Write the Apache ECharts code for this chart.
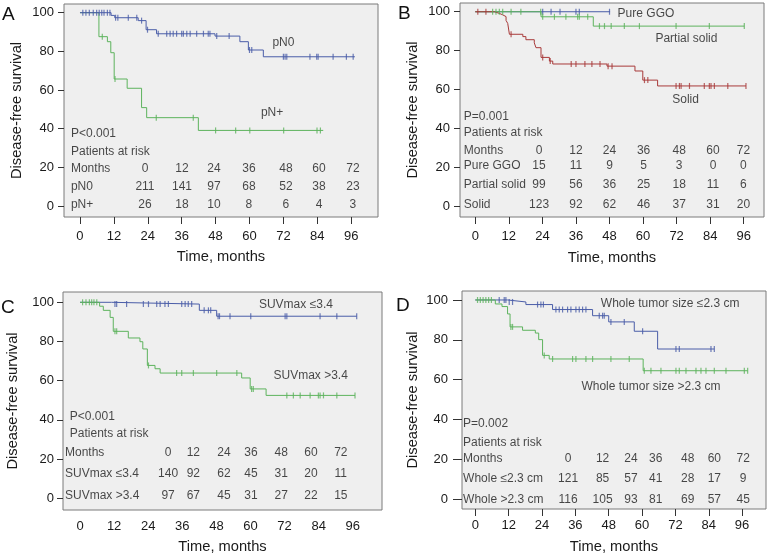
<!DOCTYPE html>
<html><head><meta charset="utf-8">
<script src="https://cdn.jsdelivr.net/npm/echarts@6/dist/echarts.min.js"></script>
<style>html,body{margin:0;padding:0;background:#fff}#c{width:772px;height:556px}</style>
</head><body><div id="c"></div>
<script>
// ================= DATA =================
const xTickValues = [0, 12, 24, 36, 48, 60, 72, 84, 96];
const yTickValues = [0, 20, 40, 60, 80, 100];
const riskMonths = [0, 12, 24, 36, 48, 60, 72];
const yAxisTitle = 'Disease-free survival';
const xAxisTitle = 'Time, months';

// Panel A — pN0 / pN+
const pN0Times = [0, 11, 12.3, 20.6, 23.4, 27.1, 47.8, 56.6, 59.6, 64.9];
const pN0Surv = [100, 98.6, 97.4, 95.9, 91.2, 89.1, 87.9, 85.0, 80.7, 77.2];
const pN0End = 97.3;
const pN0Censor = [1, 2.1, 3.3, 4.7, 5.9, 6.8, 7.7, 8.5, 9.7, 10.6, 12.6, 13.4, 17.1, 20.1, 21.8, 23.9, 27.7, 30.7, 31.9, 33, 34.2, 36, 36.6, 37.8, 39, 41.3, 43.7, 45.4, 46, 48.4, 52.8, 60, 60.8, 72, 72.6, 73.2, 81.4, 83.8, 84.3, 89.6, 94.3, 96.7];
const pNpTimes = [0, 6.7, 9.7, 10.9, 12.1, 16.7, 21.8, 23.6, 41.9];
const pNpSurv = [100, 87.6, 85.0, 79.3, 65.7, 60.9, 50.9, 45.7, 39.1];
const pNpEnd = 86.1;
const pNpCensor = [7.9, 12.4, 27, 40.1, 48, 55.1, 60.1, 72.1, 83.9, 85.1];
const riskA_labels = ['pN0', 'pN+'];
const riskA_pN0 = [211, 141, 97, 68, 52, 38, 23];
const riskA_pNp = [26, 18, 10, 8, 6, 4, 3];
const pA = 'P<0.001';

// Panel B — Pure GGO / Partial solid / Solid
const ggoTimes = [0];
const ggoSurv = [100];
const ggoEnd = 48.2;
const ggoCensor = [24.1, 27.1, 30.3, 36, 37.2, 48];
const partTimes = [0, 23.5, 42.2];
const partSurv = [100, 97.4, 92.6];
const partEnd = 96.2;
const partCensor = [6.2, 7.4, 8.6, 9.8, 12.8, 16.3, 23.4, 24.1, 28.3, 32.4, 36.6, 37.2, 40.2, 44.4, 46.2, 48.6, 53.3, 58.7, 71.8, 83.7, 96.2];
const solidTimes = [0, 6.8, 8.5, 9.8, 11, 11.6, 12.2, 17, 18.1, 21.1, 21.7, 23.5, 26.5, 27.7, 47.1, 57.1, 59.9, 65.2];
const solidSurv = [100, 99.2, 98.4, 97.5, 95.5, 94, 88.4, 87.2, 85.6, 84, 81.5, 76.5, 74.6, 73.1, 72.0, 69.5, 64.8, 61.8];
const solidEnd = 96.8;
const solidCensor = [0.9, 3.8, 12.8, 24.1, 26.8, 34.3, 36, 39.2, 41.7, 44.6, 47.5, 48.9, 60.5, 61.7, 71.8, 73, 73.6, 76.6, 81.9, 83.7, 84.3, 85.5, 90.3, 96.8];
const riskB_labels = ['Pure GGO', 'Partial solid', 'Solid'];
const riskB_ggo = [15, 11, 9, 5, 3, 0, 0];
const riskB_part = [99, 56, 36, 25, 18, 11, 6];
const riskB_solid = [123, 92, 62, 46, 37, 31, 20];
const pB = 'P=0.001';

// Panel C — SUVmax
const suvLowTimes = [0, 11.1, 42, 48.1];
const suvLowSurv = [100, 99.1, 95.9, 92.9];
const suvLowEnd = 97.4;
const suvLowCensor = [12.3, 12.9, 16.4, 22.3, 24.1, 27, 28.2, 29.9, 31.1, 35.8, 37, 38.1, 39.3, 43.7, 45.2, 46, 48.6, 49.1, 52.8, 60.1, 72.2, 72.8, 84.5, 90.4, 97.4];
const suvHighTimes = [0, 6.9, 8.2, 10.6, 11.7, 17, 21.1, 22.1, 23.7, 26.4, 28.2, 56.9, 59.9, 65.5];
const suvHighSurv = [100, 98, 95.9, 92.3, 85.2, 81.8, 79.9, 76.2, 67.8, 66.1, 63.9, 61.4, 55.8, 52.5];
const suvHighEnd = 96.8;
const suvHighCensor = [0.9, 2.1, 3.3, 4.1, 4.9, 5.9, 12.3, 12.9, 24.1, 34, 35.8, 39.9, 48.1, 55.2, 60.4, 61, 72.8, 75.1, 77.5, 81, 83.9, 84.5, 85.7, 90.4, 96.8];
const riskC_labels = ['SUVmax ≤3.4', 'SUVmax >3.4'];
const riskC_low = [140, 92, 62, 45, 31, 20, 11];
const riskC_high = [97, 67, 45, 31, 27, 22, 15];
const pC = 'P<0.001';

// Panel D — Whole tumor size
const smallTimes = [0, 11.6, 18.2, 27.8, 42.2, 48, 57.2, 65.6];
const smallSurv = [100, 99, 97.7, 95.2, 92.1, 89, 84.3, 75.4];
const smallEnd = 86;
const smallCensor = [8.6, 10.4, 11, 12.2, 13.4, 22.4, 23.6, 24.5, 29, 30.2, 31.4, 33.2, 34.4, 36.2, 37.4, 38.6, 39.8, 44.6, 45.8, 46.4, 48.8, 53.6, 60.2, 72.2, 73.4, 84.8, 86];
const largeTimes = [0, 7.2, 9.6, 11.6, 12.5, 17, 21.6, 22.8, 24.2, 26.6, 60.4];
const largeSurv = [100, 98, 96.7, 93, 86.5, 84.8, 83.4, 80.1, 72.2, 70.4, 64.5];
const largeEnd = 98;
const largeCensor = [0.8, 1.8, 2.8, 3.8, 4.8, 5.8, 12.8, 13.4, 24.8, 27.8, 35, 36.2, 39.8, 42.2, 48.8, 55.4, 60.8, 63.2, 66.8, 72.2, 73.4, 75.8, 79.4, 81.2, 83, 86, 90.2, 96.8, 98];
const riskD_labels = ['Whole ≤2.3 cm', 'Whole >2.3 cm'];
const riskD_small = [121, 85, 57, 41, 28, 17, 9];
const riskD_large = [116, 105, 93, 81, 69, 57, 45];
const pD = 'P=0.002';

// ================= STYLE / LAYOUT =================
const FONT = "'Liberation Sans', Arial, Helvetica, sans-serif";
const BLUE = '#4a5da8', GREEN = '#5db35d', RED = '#a83a3a';
const TEXT = '#1a1a1a';

const panels = [
  { letter: 'A', letterPos: [2, 5],
    grid: { left: 64, top: 4, width: 314, height: 213 }, xr: [-5.66, 105.49], yr: [-5.69, 104.5],
    xTicks: true, xLabelMargin: 13, xNameGap: 32, yNameGap: 40, yTickLen: 6, yLabelMargin: 10,
    curves: [
      { c: GREEN, t: pNpTimes, s: pNpSurv, e: pNpEnd, cz: pNpCensor },
      { c: BLUE, t: pN0Times, s: pN0Surv, e: pN0End, cz: pN0Censor }],
    p: pA, headX: -3.2, rowX: -3.2, rowY: [37.2, 28.1, 19.5, 10, 0.5],
    cols: [23, 36.1, 47.4, 59.8, 72.9, 84.6, 96.6],
    rows: [[riskA_labels[0], riskA_pN0], [riskA_labels[1], riskA_pNp]],
    curveLabels: [['pN0', 72, 84.3, 'center'], ['pN+', 68, 48.1, 'center']] },
  { letter: 'B', letterPos: [398, 4],
    grid: { left: 460, top: 3, width: 304, height: 214 }, xr: [-5.47, 103.25], yr: [-5.66, 104.5],
    xTicks: true, xLabelMargin: 13, xNameGap: 33, yNameGap: 40, yTickLen: 6, yLabelMargin: 10,
    curves: [
      { c: BLUE, t: ggoTimes, s: ggoSurv, e: ggoEnd, cz: ggoCensor },
      { c: GREEN, t: partTimes, s: partSurv, e: partEnd, cz: partCensor },
      { c: RED, t: solidTimes, s: solidSurv, e: solidEnd, cz: solidCensor }],
    p: pB, headX: -4.1, rowX: -4.1, rowY: [46, 37.7, 28.5, 20.6, 10.8, 0.5],
    cols: [22.8, 36, 48, 60.2, 72.9, 85, 95.9],
    rows: [[riskB_labels[0], riskB_ggo], [riskB_labels[1], riskB_part], [riskB_labels[2], riskB_solid]],
    curveLabels: [['Pure GGO', 50.9, 99.2, 'left'], ['Partial solid', 75.5, 86.3, 'center'], ['Solid', 75.2, 54.6, 'center']] },
  { letter: 'C', letterPos: [1, 298],
    grid: { left: 63, top: 292, width: 319, height: 218 }, xr: [-5.99, 106.3], yr: [-5.97, 105.26],
    xTicks: false, xLabelMargin: 10, xNameGap: 29, yNameGap: 43, yTickLen: 6, yLabelMargin: 9,
    curves: [
      { c: BLUE, t: suvLowTimes, s: suvLowSurv, e: suvLowEnd, cz: suvLowCensor },
      { c: GREEN, t: suvHighTimes, s: suvHighSurv, e: suvHighEnd, cz: suvHighCensor }],
    p: pC, headX: -3.6, rowX: -5.3, rowY: [41.6, 33.2, 23.3, 12.4, 1.2],
    cols: [31, 39.9, 50.7, 60.2, 70.8, 81.3, 91.8],
    rows: [[riskC_labels[0], riskC_low], [riskC_labels[1], riskC_high]],
    curveLabels: [['SUVmax ≤3.4', 76, 98.8, 'center'], ['SUVmax >3.4', 81.2, 62.6, 'center']] },
  { letter: 'D', letterPos: [396, 296],
    grid: { left: 462, top: 291, width: 304, height: 218 }, xr: [-4.79, 104.6], yr: [-4.87, 104.5],
    xTicks: true, xLabelMargin: 10, xNameGap: 30, yNameGap: 42, yTickLen: 9, yLabelMargin: 14,
    curves: [
      { c: BLUE, t: smallTimes, s: smallSurv, e: smallEnd, cz: smallCensor },
      { c: GREEN, t: largeTimes, s: largeSurv, e: largeEnd, cz: largeCensor }],
    p: pD, headX: -4.4, rowX: -4.4, rowY: [37.8, 28.6, 20.6, 10.2, 0],
    cols: [33.4, 45.8, 56, 64.9, 76.4, 86, 96.4],
    rows: [[riskD_labels[0], riskD_small], [riskD_labels[1], riskD_large]],
    curveLabels: [['Whole tumor size ≤2.3 cm', 70.1, 98, 'center'], ['Whole tumor size >2.3 cm', 63.2, 56.7, 'center']] }
];

// ================= BUILD =================
function stepData(times, surv, end) {
  const d = times.map((t, i) => [t, surv[i]]);
  d.push([end, surv[surv.length - 1]]);
  return d;
}
function censorPts(times, surv, censor) {
  return censor.map(c => {
    let v = surv[0];
    for (let i = 0; i < times.length; i++) if (times[i] <= c) v = surv[i];
    return [c, v];
  });
}
function textItem(str, x, y, align) {
  return { value: [x, y], label: { formatter: () => str, align: align } };
}

const grids = [], xAxes = [], yAxes = [], series = [], graphics = [];
panels.forEach((P, k) => {
  grids.push(Object.assign({ show: true, backgroundColor: '#efefef', borderColor: '#7a7a7a', borderWidth: 1, containLabel: false }, P.grid));
  xAxes.push({
    type: 'value', gridIndex: k, min: P.xr[0], max: P.xr[1], position: 'bottom',
    splitLine: { show: false }, axisLine: { show: false, onZero: false },
    axisTick: { show: P.xTicks, customValues: xTickValues, length: 7, lineStyle: { color: '#333' } },
    axisLabel: { customValues: xTickValues, margin: P.xLabelMargin, fontSize: 13, color: TEXT, fontFamily: FONT },
    name: xAxisTitle, nameLocation: 'middle', nameGap: P.xNameGap,
    nameTextStyle: { fontSize: 14.7, color: TEXT, fontFamily: FONT }
  });
  yAxes.push({
    type: 'value', gridIndex: k, min: P.yr[0], max: P.yr[1], position: 'left',
    splitLine: { show: false }, axisLine: { show: false, onZero: false },
    axisTick: { show: true, customValues: yTickValues, length: P.yTickLen, lineStyle: { color: '#333' } },
    axisLabel: { customValues: yTickValues, margin: P.yLabelMargin, fontSize: 13, color: TEXT, fontFamily: FONT },
    name: yAxisTitle, nameLocation: 'middle', nameGap: P.yNameGap,
    nameTextStyle: { fontSize: 14.7, color: TEXT, fontFamily: FONT }
  });
  P.curves.forEach(cv => {
    series.push({
      type: 'line', xAxisIndex: k, yAxisIndex: k, step: 'end', showSymbol: false, silent: true,
      lineStyle: { color: cv.c, width: 1 }, data: stepData(cv.t, cv.s, cv.e), z: 3
    });
    series.push({
      type: 'scatter', xAxisIndex: k, yAxisIndex: k, symbol: 'rect', symbolSize: [1.2, 6], silent: true,
      itemStyle: { color: cv.c }, data: censorPts(cv.t, cv.s, cv.cz), z: 4
    });
  });
  // texts
  const items = [];
  items.push(textItem(P.p, P.headX, P.rowY[0], 'left'));
  items.push(textItem('Patients at risk', P.headX, P.rowY[1], 'left'));
  items.push(textItem('Months', P.rowX, P.rowY[2], 'left'));
  riskMonths.forEach((m, i) => items.push(textItem(String(m), P.cols[i], P.rowY[2], 'center')));
  P.rows.forEach((r, j) => {
    items.push(textItem(r[0], P.rowX, P.rowY[3 + j], 'left'));
    r[1].forEach((v, i) => items.push(textItem(String(v), P.cols[i], P.rowY[3 + j], 'center')));
  });
  P.curveLabels.forEach(cl => items.push(textItem(cl[0], cl[1], cl[2], cl[3])));
  series.push({
    type: 'scatter', xAxisIndex: k, yAxisIndex: k, symbol: 'circle', symbolSize: 1, silent: true,
    itemStyle: { color: 'rgba(0,0,0,0)' }, z: 5,
    label: { show: true, position: 'inside', verticalAlign: 'middle', fontSize: 12, color: TEXT, fontFamily: FONT },
    data: items
  });
  graphics.push({ type: 'text', left: P.letterPos[0], top: P.letterPos[1],
    style: { text: P.letter, fontSize: 19, fill: '#111', fontFamily: FONT } });
});

const chart = echarts.init(document.getElementById('c'), null, { renderer: 'canvas' });
chart.setOption({
  animation: false, backgroundColor: '#ffffff',
  grid: grids, xAxis: xAxes, yAxis: yAxes, series: series, graphic: graphics
});
</script></body></html>
